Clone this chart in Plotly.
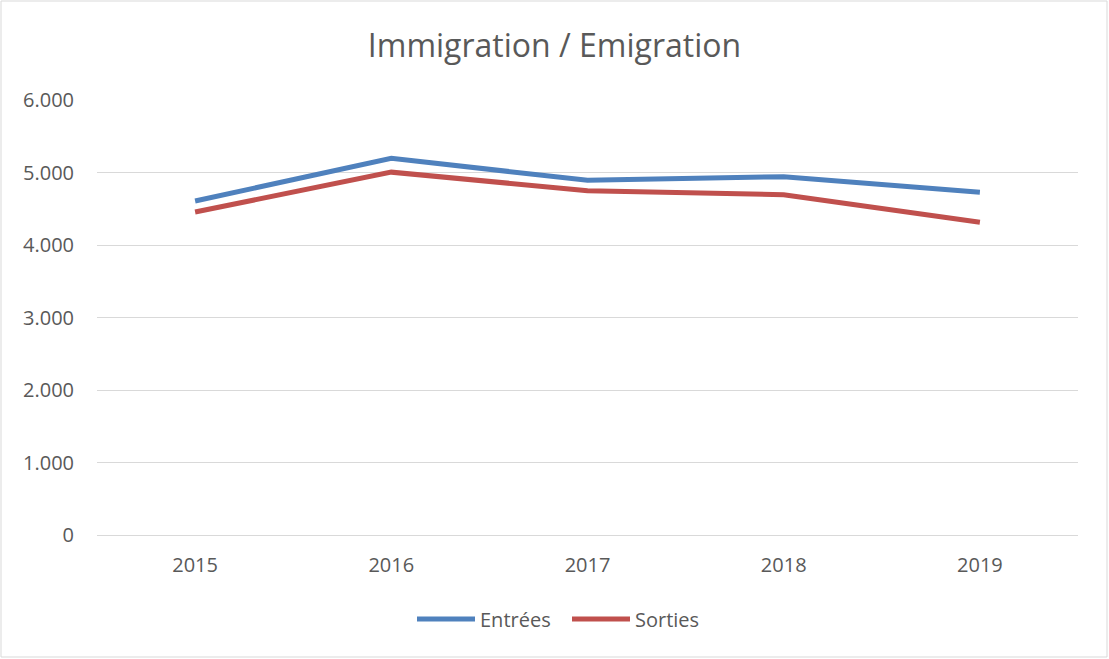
import plotly.graph_objects as go

years = ["2015", "2016", "2017", "2018", "2019"]
entrees = [4607, 5196, 4892, 4942, 4727]
sorties = [4455, 5005, 4749, 4694, 4313]

W, H = 1109, 659
L, R, T, B = 97, 31, 100, 124
pw, ph = W - L - R, H - T - B

fig = go.Figure()
fig.add_trace(go.Scatter(x=years, y=entrees, mode="lines", name="Entrées",
                         line=dict(color="#4f81bd", width=5)))
fig.add_trace(go.Scatter(x=years, y=sorties, mode="lines", name="Sorties",
                         line=dict(color="#c0504d", width=5)))

font = "Open Sans, Liberation Sans, sans-serif"
fig.update_layout(
    width=W, height=H,
    margin=dict(l=L, r=R, t=T, b=B),
    paper_bgcolor="white", plot_bgcolor="white",
    separators=",.",
    font=dict(family=font, color="#595959", size=20),
    title=dict(text="Immigration / Emigration", x=0.5, xanchor="center",
               y=1 - 46 / H, yanchor="middle",
               font=dict(size=32, color="#595959", family=font)),
    xaxis=dict(type="category", range=[-0.5, 4.5], showgrid=False,
               showline=True, linecolor="#d9d9d9", linewidth=1,
               ticks="", ticklabelstandoff=12,
               tickfont=dict(size=20, color="#595959")),
    yaxis=dict(range=[0, 6000], dtick=1000, tickformat=",d",
               showgrid=True, gridcolor="#d9d9d9", gridwidth=1,
               zeroline=False, ticks="", showline=False,
               ticklabelstandoff=22,
               tickfont=dict(size=20, color="#595959")),
    legend=dict(orientation="h", x=(567 - L) / pw, xanchor="center",
                y=-(619 - (T + ph)) / ph, yanchor="middle",
                font=dict(size=20, color="#595959"), itemwidth=58,
                entrywidth=82, entrywidthmode="pixels"),
    showlegend=True,
)

fig.add_shape(type="rect", xref="paper", yref="paper",
              x0=(1 - L) / pw, x1=(W - 2 - L) / pw,
              y0=-(H - 2 - T - ph) / ph, y1=1 + (T - 1) / ph,
              line=dict(color="#d9d9d9", width=1), layer="below")

fig.write_html("out.html", config={"displayModeBar": False},
               post_script="document.body.style.margin='0';document.body.style.overflow='hidden';")
